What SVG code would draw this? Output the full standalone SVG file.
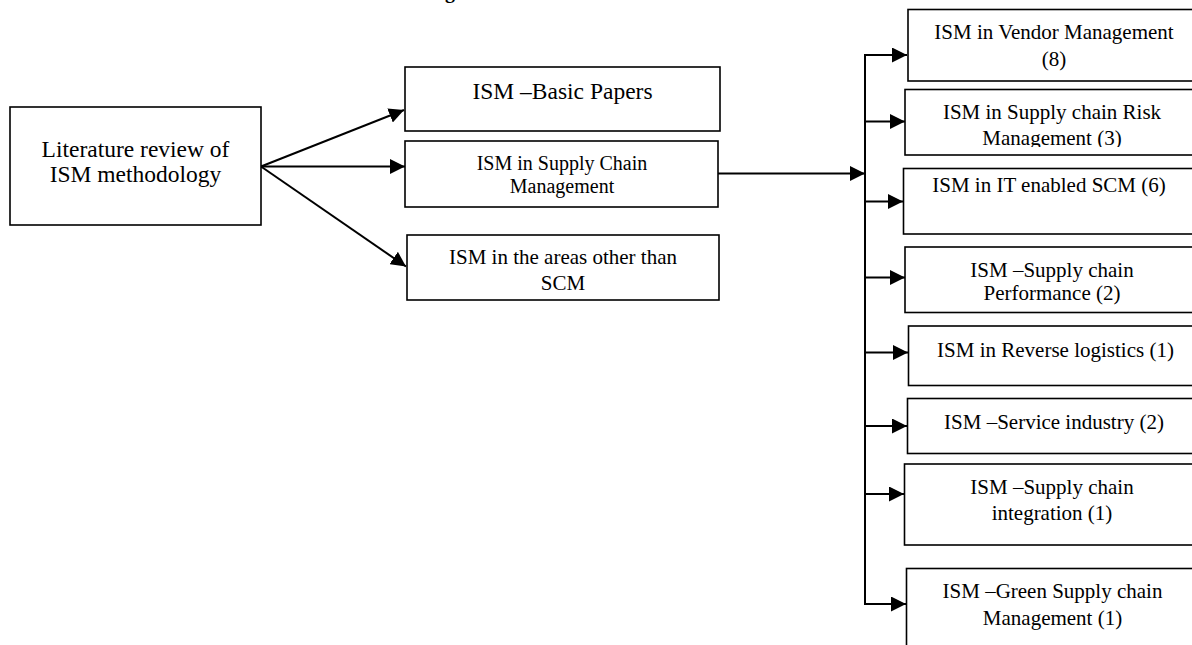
<svg xmlns="http://www.w3.org/2000/svg" width="1192" height="645" viewBox="0 0 1192 645">
<style>
.box{fill:#fff;stroke:#000;stroke-width:1.6}
.t{font-family:"Liberation Serif","Times New Roman",serif;fill:#000;text-anchor:middle}
.big{font-size:23.5px}
.med{font-size:21px}
.sm{font-size:20px}
.c{fill:none;stroke:#000;stroke-width:2}
</style>
<defs>
<marker id="ah" viewBox="0 0 15 15" refX="15" refY="7.5" markerWidth="15" markerHeight="15" markerUnits="userSpaceOnUse" orient="auto">
<path d="M0,0 L15,7.5 L0,15 Z" fill="#000"/>
</marker>
<clipPath id="clipRisk"><rect x="900" y="85" width="300" height="62"/></clipPath>
</defs>
<rect width="1192" height="645" fill="#fff"/>
<text x="450" y="-2" font-family="Liberation Serif, serif" font-weight="bold" font-size="20" text-anchor="middle">g</text>

<g id="connectors">
<line class="c" x1="261" y1="166.5" x2="404" y2="110" marker-end="url(#ah)"/>
<line class="c" x1="261" y1="166.5" x2="405" y2="166.5" marker-end="url(#ah)"/>
<line class="c" x1="261" y1="166.5" x2="406" y2="266.5" marker-end="url(#ah)"/>
<line class="c" x1="718" y1="173.5" x2="865" y2="173.5" marker-end="url(#ah)"/>
<line class="c" x1="865" y1="54" x2="865" y2="605"/>
<line class="c" x1="864" y1="55" x2="907" y2="55" marker-end="url(#ah)"/>
<line class="c" x1="864" y1="121.5" x2="905" y2="121.5" marker-end="url(#ah)"/>
<line class="c" x1="864" y1="201.5" x2="903" y2="201.5" marker-end="url(#ah)"/>
<line class="c" x1="864" y1="277.5" x2="905" y2="277.5" marker-end="url(#ah)"/>
<line class="c" x1="864" y1="352.5" x2="908" y2="352.5" marker-end="url(#ah)"/>
<line class="c" x1="864" y1="426" x2="907" y2="426" marker-end="url(#ah)"/>
<line class="c" x1="864" y1="494" x2="904" y2="494" marker-end="url(#ah)"/>
<line class="c" x1="864" y1="604" x2="906" y2="604" marker-end="url(#ah)"/>
</g>

<g id="lit">
<rect class="box" x="10" y="107" width="251" height="118"/>
<text class="t big" x="135.5" y="157">Literature review of</text>
<text class="t big" x="135.5" y="182">ISM methodology</text>
</g>

<g id="basic">
<rect class="box" x="405" y="67" width="315" height="64"/>
<text class="t big" x="562.5" y="99">ISM –Basic Papers</text>
</g>

<g id="scm">
<rect class="box" x="405" y="141" width="313" height="66"/>
<text class="t sm" x="562" y="170">ISM in Supply Chain</text>
<text class="t sm" x="562" y="192.5">Management</text>
</g>

<g id="other">
<rect class="box" x="407" y="235" width="312" height="65"/>
<text class="t med" x="563" y="264">ISM in the areas other than</text>
<text class="t med" x="563" y="290">SCM</text>
</g>

<g id="vendor">
<rect class="box" x="908" y="9.5" width="300" height="71.5"/>
<text class="t med" x="1054" y="39">ISM in Vendor Management</text>
<text class="t med" x="1054" y="65.5">(8)</text>
</g>

<g id="risk">
<rect class="box" x="905" y="89.5" width="300" height="65.5"/>
<g clip-path="url(#clipRisk)">
<text class="t med" x="1052" y="119">ISM in Supply chain Risk</text>
<text class="t med" x="1052" y="145">Management (3)</text>
</g>
</g>

<g id="it">
<rect class="box" x="903.5" y="168.5" width="300" height="65.5"/>
<text class="t med" x="1049" y="191.5">ISM in IT enabled SCM (6)</text>
</g>

<g id="perf">
<rect class="box" x="905" y="247" width="300" height="65.5"/>
<text class="t med" x="1052" y="276.5">ISM –Supply chain</text>
<text class="t med" x="1052" y="300">Performance (2)</text>
</g>

<g id="reverse">
<rect class="box" x="908.5" y="326" width="300" height="59.5"/>
<text class="t med" x="1055.5" y="356.5">ISM in Reverse logistics (1)</text>
</g>

<g id="service">
<rect class="box" x="907.5" y="398.5" width="300" height="55"/>
<text class="t med" x="1054" y="429">ISM –Service industry (2)</text>
</g>

<g id="integration">
<rect class="box" x="904.5" y="464" width="300" height="81"/>
<text class="t med" x="1052" y="494">ISM –Supply chain</text>
<text class="t med" x="1052" y="519.5">integration (1)</text>
</g>

<g id="green">
<rect class="box" x="906.5" y="568.5" width="300" height="90"/>
<text class="t med" x="1052.5" y="598">ISM –Green Supply chain</text>
<text class="t med" x="1052.5" y="625">Management (1)</text>
</g>
</svg>
